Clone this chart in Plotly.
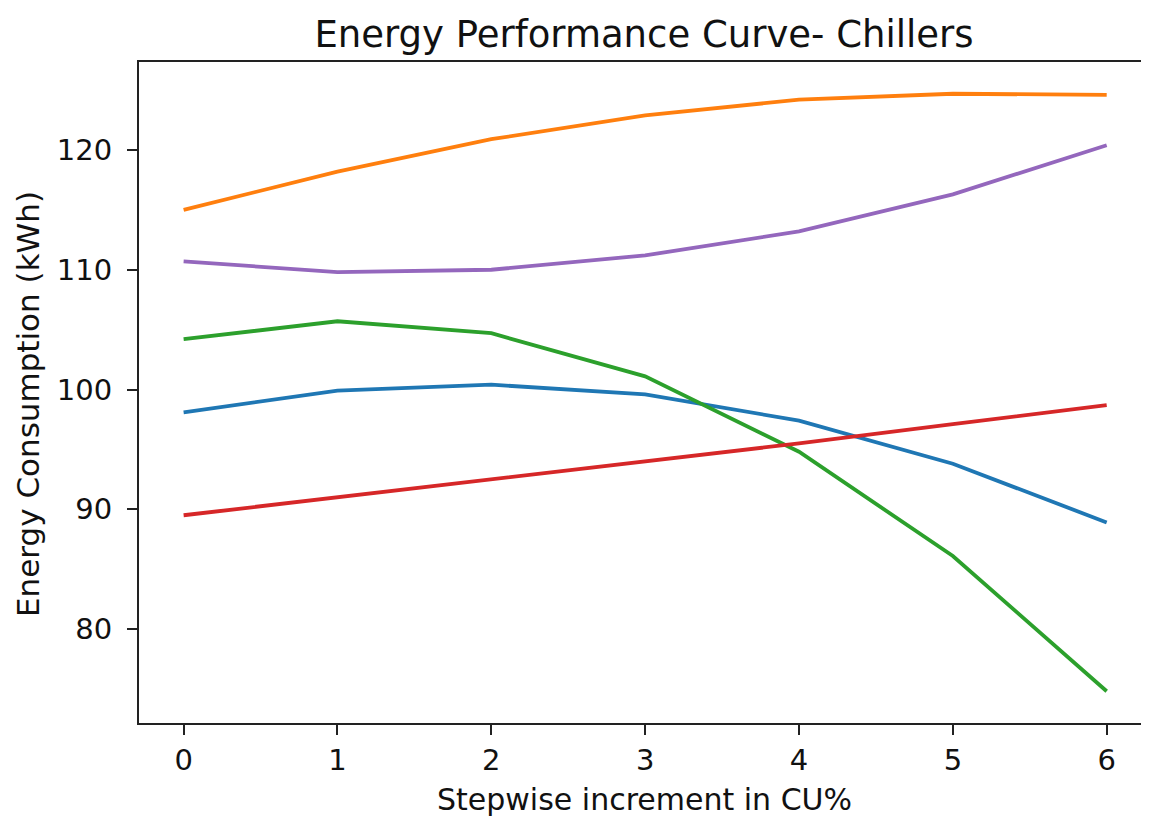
import plotly.graph_objects as go

steps = [0, 1, 2, 3, 4, 5, 6]
series_blue = [98.1, 99.9, 100.4, 99.6, 97.4, 93.8, 88.9]
series_orange = [115.0, 118.2, 120.9, 122.9, 124.2, 124.7, 124.6]
series_green = [104.2, 105.7, 104.7, 101.1, 94.8, 86.1, 74.8]
series_red = [89.5, 91.0, 92.5, 94.0, 95.5, 97.1, 98.7]
series_purple = [110.7, 109.8, 110.0, 111.2, 113.2, 116.3, 120.4]

colors = ["#1f77b4", "#ff7f0e", "#2ca02c", "#d62728", "#9467bd"]
all_series = [series_blue, series_orange, series_green, series_red, series_purple]

W, H = 1141, 810          # page body has an 8px margin
L, T, B, R = 131, 54, 95, 0
PW, PH = W - L - R, H - T - B

fig = go.Figure()
for s, c in zip(all_series, colors):
    fig.add_trace(go.Scatter(x=steps, y=s, mode="lines",
                             line=dict(color=c, width=3.8), showlegend=False))

font_family = "DejaVu Sans"
fig.update_layout(
    width=W, height=H,
    margin=dict(l=L, r=R, t=T, b=B, pad=0),
    paper_bgcolor="white", plot_bgcolor="white",
    font=dict(family=font_family, color="black", size=29),
    title=dict(text="Energy Performance Curve- Chillers", x=(L + PW / 2) / W,
               xanchor="center", yref="container", y=1 - 26 / H, yanchor="middle",
               font=dict(size=37, family=font_family, color="#111111")),
    xaxis=dict(range=[-0.29, 6.275], tickvals=steps, ticktext=[str(v) for v in steps],
               showgrid=False, zeroline=False, showline=True, linecolor="#222222", linewidth=2,
               mirror=True, ticks="outside", ticklen=10, tickwidth=2, tickcolor="#222222",
               tickfont=dict(size=29, color="#111111")),
    yaxis=dict(range=[72.15, 127.35], tickvals=[80, 90, 100, 110, 120],
               showgrid=False, zeroline=False, showline=True, linecolor="#222222", linewidth=2,
               mirror=False, ticks="outside", ticklen=10, tickwidth=2, tickcolor="#222222",
               tickfont=dict(size=29, color="#111111"), ticklabelstandoff=9),
    annotations=[
        dict(text="Stepwise increment in CU%", xref="paper", yref="paper",
             x=0.5, y=-76 / PH, xanchor="center", yanchor="middle", showarrow=False,
             font=dict(size=30, color="#111111")),
        dict(text="Energy Consumption (kWh)", xref="paper", yref="paper",
             x=-111 / PW, y=(H - B - 396) / PH, xanchor="center", yanchor="middle",
             textangle=-90, showarrow=False, font=dict(size=31, color="#111111")),
    ],
)
fig.write_html("out.html")
